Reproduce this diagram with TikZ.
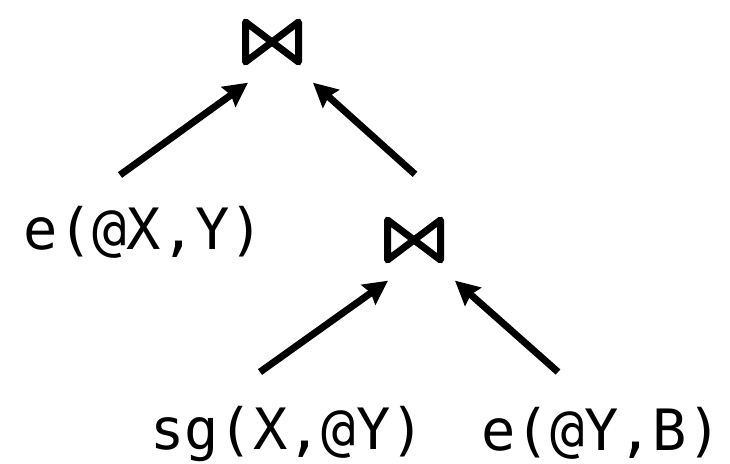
\documentclass[tikz,border=0pt]{standalone}
\usepackage{fontspec}
\usepackage{tikz}
\usetikzlibrary{arrows.meta,positioning,calc}
\newfontfamily\codefont{DejaVu Sans Mono}

\begin{document}
\begin{tikzpicture}[x=1pt,y=1pt,
    lbl/.style={inner sep=0pt,anchor=base,font=\codefont\fontsize{57}{60}\selectfont},
    joinop/.style={minimum width=60pt,minimum height=47pt,inner sep=0pt,
      path picture={\draw[line width=7pt,line join=round,line cap=round]
        ([shift={(3.5pt,-3.5pt)}]path picture bounding box.north west) --
        ([shift={(-3.5pt,3.5pt)}]path picture bounding box.south east) --
        ([shift={(-3.5pt,-3.5pt)}]path picture bounding box.north east) --
        ([shift={(3.5pt,3.5pt)}]path picture bounding box.south west) -- cycle;}},
    a/.style={-{Stealth[length=24pt,width=24pt,inset=3pt]},line width=7pt}]
    \useasboundingbox (0,0) rectangle (730,463);
    \node[joinop] (top) at (272,421) {};
    \node[joinop] (mid) at (414,223) {};
    \node[lbl] (ex) at (144,213) {e(@X,Y)};
    \node[lbl] (sg) at (287.5,14) {sg(X,@Y)};
    \node[lbl] (ey) at (601.5,13) {e(@Y,B)};
    \draw[a]($(ex.base)+(-24,75)$)--($(top.south)+(-24,-17)$);
    \draw[a]($(mid.north)+(1,42)$)--($(top.south)+(41,-17)$);
    \draw[a]($(sg.base)+(-27.5,77)$)--($(mid.south)+(-26,-17)$);
    \draw[a]($(ey.base)+(-43.5,78)$)--($(mid.south)+(41,-17)$);
  \end{tikzpicture}
\end{document}
